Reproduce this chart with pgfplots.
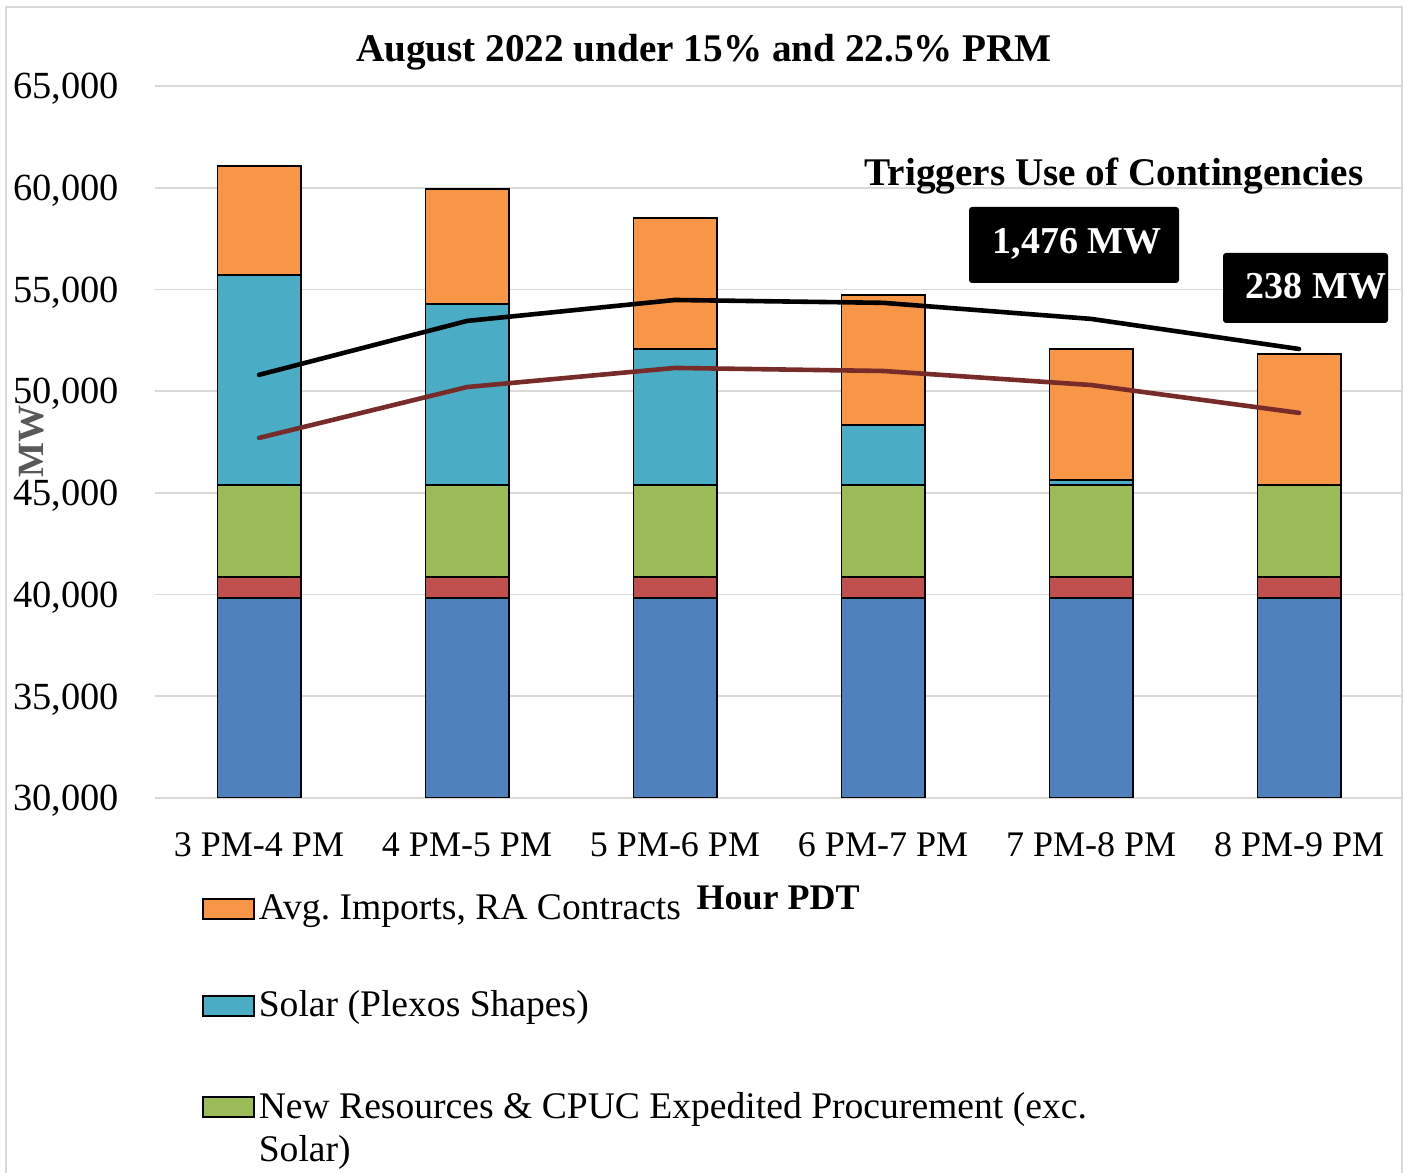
\documentclass[border=0pt]{standalone}
\usepackage{fontspec}
\setmainfont{Liberation Serif}
\usepackage{pgfplots}
\pgfplotsset{compat=1.18}
\frenchspacing
\definecolor{blueC}{HTML}{4F81BD}
\definecolor{redC}{HTML}{C0504D}
\definecolor{greenC}{HTML}{9BBB59}
\definecolor{tealC}{HTML}{4BACC6}
\definecolor{orangeC}{HTML}{F79646}
\definecolor{darkredC}{HTML}{772C2A}
\definecolor{gridC}{HTML}{D9D9D9}
\definecolor{labelC}{HTML}{595959}
\pgfplotsset{mybox/.style={legend image code/.code={\draw[##1, draw=black, line width=0.9bp] (0bp,0.5bp) rectangle (25.5bp,10.5bp);}}}
\pgfplotstableread{
x blue red green solar imports
0 39830 1040 4520 10320 5360
1 39830 1040 4520 8900 5650
2 39830 1040 4520 6680 6440
3 39830 1040 4520 2950 6390
4 39830 1040 4520 240 6440
5 39830 1040 4520 0 6440
}\bars
\pgfplotstableread{
x prm15 prm225
0 47700 50800
1 50200 53450
2 51140 54480
3 50990 54340
4 50300 53550
5 48930 52070
}\lines
\begin{document}
\begin{tikzpicture}[x=1bp,y=1bp]
\useasboundingbox (0,0) rectangle (701.5,586.5);
\draw[color=gridC, line width=1bp] (3,0) -- (3,583) -- (700.75,583) -- (700.75,0);
\begin{axis}[
  at={(77.5bp,187.5bp)}, anchor=south west, scale only axis,
  width=624bp, height=356bp,
  xmin=-0.5, xmax=5.5, ymin=30000, ymax=65000,
  ytick={30000,35000,...,65000},
  xtick={0,1,2,3,4,5},
  xticklabels={3 PM-4 PM,4 PM-5 PM,5 PM-6 PM,6 PM-7 PM,7 PM-8 PM,8 PM-9 PM},
  ybar stacked, bar width=0.4,
  ymajorgrids, grid style={color=gridC, line width=0.9bp},
  axis line style={draw=none}, major tick length=0pt,
  scaled y ticks=false,
  /pgf/number format/1000 sep={,},
  /pgf/number format/assume math mode=true,
  yticklabel style={font=\fontsize{19.2bp}{22bp}\selectfont, anchor=base east, xshift=-18bp, yshift=-6.4bp, inner sep=0pt},
  xticklabel style={font=\fontsize{18bp}{22bp}\selectfont, anchor=base, yshift=-29.5bp, inner sep=0pt},
  xlabel={Hour PDT},
  xlabel style={font=\bfseries\fontsize{18bp}{22bp}\selectfont, at={(axis description cs:0.4992,-0.1573)}, anchor=base, inner sep=0pt},
  ylabel={MW},
  ylabel style={font=\bfseries\fontsize{18.5bp}{20bp}\selectfont, color=labelC, at={(axis description cs:-0.0986,0.5003)}, anchor=center, inner sep=0pt},
  legend style={at={(axis description cs:0.03766,-0.1362)}, anchor=north west, draw=none, fill=none, inner sep=0pt, outer sep=0pt,
     row sep=34bp, column sep=2bp, font=\fontsize{18.8bp}{21.5bp}\selectfont, nodes={inner sep=0pt}, cells={anchor=base west}},
  every axis plot/.append style={draw=black, line width=0.9bp},
]
\addlegendimage{mybox, fill=orangeC}
\addlegendentry{Avg. Imports, RA Contracts}
\addlegendimage{mybox, fill=tealC}
\addlegendentry{Solar (Plexos Shapes)}
\addlegendimage{mybox, fill=greenC}
\addlegendentry{\begin{tabular}[t]{@{}l@{}}New Resources \& CPUC Expedited Procurement (exc.\\Solar)\end{tabular}}
\addplot[fill=blueC] table[x=x, y=blue] {\bars};
\addplot[fill=redC] table[x=x, y=red] {\bars};
\addplot[fill=greenC] table[x=x, y=green] {\bars};
\addplot[fill=tealC] table[x=x, y=solar] {\bars};
\addplot[fill=orangeC] table[x=x, y=imports] {\bars};
\end{axis}
\begin{axis}[
  at={(77.5bp,187.5bp)}, anchor=south west, scale only axis,
  width=624bp, height=356bp,
  xmin=-0.5, xmax=5.5, ymin=30000, ymax=65000, hide axis,
]
\addplot[black, line width=2.3bp, line cap=round, line join=round, no marks] table[x=x, y=prm225] {\lines};
\addplot[darkredC, line width=2.3bp, line cap=round, line join=round, no marks] table[x=x, y=prm15] {\lines};
\end{axis}
\node[font=\bfseries\fontsize{19.6bp}{23bp}\selectfont, anchor=base, inner sep=0pt] at (352,555.5) {August 2022 under 15\% and 22.5\% PRM};
\node[font=\bfseries\fontsize{19.6bp}{23bp}\selectfont, anchor=base, inner sep=0pt] at (557,493.5) {Triggers Use of Contingencies};
\fill[black, rounded corners=1.5bp] (484.5,445) rectangle (589.5,483);
\node[text=white, font=\bfseries\fontsize{19bp}{23bp}\selectfont, anchor=base, inner sep=0pt] at (538.5,459.5) {1,476 MW};
\fill[black, rounded corners=1.5bp] (611.5,425) rectangle (694,460);
\node[text=white, font=\bfseries\fontsize{19bp}{23bp}\selectfont, anchor=base, inner sep=0pt] at (658,437) {238 MW};
\end{tikzpicture}
\end{document}
